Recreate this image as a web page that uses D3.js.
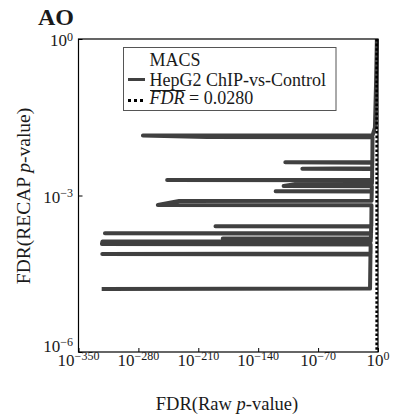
<!DOCTYPE html>
<html>
<head>
<meta charset="utf-8">
<script src="https://cdn.jsdelivr.net/npm/d3@7/dist/d3.min.js"></script>
<style>
  html, body { margin: 0; padding: 0; background: #fff; }
  svg { display: block; }
  text { font-family: "Liberation Serif", "DejaVu Serif", serif; fill: #1a1a1a; }
</style>
</head>
<body>
<svg id="chart" width="396" height="415"></svg>
<script>
// log10 of FDR from the raw p-values and from the RECAP p-values, sorted by RECAP FDR
const log10Raw = [
  -322.9, -9.3, -8.8, -322.2, -8.7, -8.6, -322.6, -322.0, -8.5, -8.4,
  -181.4, -8.3, -8.2, -319.1, -8.1, -8.0, -189.9, -7.8, -7.6, -257.3,
  -232.4, -7.5, -7.3, -119.6, -7.25, -7.2, -110.3, -95.1, -7.1, -7.0,
  -246.4, -6.9, -6.8, -88.4, -6.75, -6.7, -108.3, -6.6, -6.4, -200.1,
  -274.7, -6.3, -3.6, -2.2, -1.3
];
const log10Recap = [
  -4.792, -4.785, -4.130, -4.121, -4.110, -3.940, -3.930, -3.882, -3.875, -3.830,
  -3.824, -3.818, -3.732, -3.725, -3.718, -3.596, -3.590, -3.584, -3.188, -3.182,
  -3.105, -3.100, -2.925, -2.919, -2.912, -2.824, -2.818, -2.780, -2.774, -2.709,
  -2.703, -2.697, -2.492, -2.486, -2.480, -2.370, -2.364, -2.358, -1.885, -1.879,
  -1.850, -1.845, -1.700, -0.800, 0.000
];
const fdrThreshold = 0.0280;

const xTicks = [-350, -280, -210, -140, -70, 0];
const yTicks = [-6, -3, 0];

const panelTitle = "AO";
const legendTitle = "MACS";
const seriesName = "HepG2 ChIP-vs-Control";

const svg = d3.select("#chart");
const plot = { left: 78.5, right: 378, top: 39, bottom: 352 };

const x = d3.scaleLinear().domain([-350, 0]).range([plot.left, plot.right]);
const y = d3.scaleLinear().domain([-6, 0]).range([plot.bottom, plot.top]);

// curve
const pts = log10Raw.map((r, i) => [r, log10Recap[i]]);
svg.append("path")
  .datum(pts)
  .attr("fill", "none")
  .attr("stroke", "#404040")
  .attr("stroke-width", 4)
  .attr("stroke-linejoin", "round")
  .attr("stroke-linecap", "butt")
  .attr("d", d3.line().x(d => x(d[0])).y(d => y(d[1])));

// mean FDR marker
const xf = Math.log10(fdrThreshold);
svg.append("line")
  .attr("x1", x(xf)).attr("x2", x(xf))
  .attr("y1", y(0)).attr("y2", y(-6))
  .attr("stroke", "#000")
  .attr("stroke-width", 2.6)
  .attr("stroke-dasharray", "2.6,2");

// frame
svg.append("rect")
  .attr("x", plot.left).attr("y", plot.top)
  .attr("width", plot.right - plot.left).attr("height", plot.bottom - plot.top)
  .attr("fill", "none").attr("stroke", "#000").attr("stroke-width", 1.2);

// axes (inward ticks)
const xAxis = svg.append("g")
  .attr("transform", `translate(0,${plot.bottom})`)
  .call(d3.axisBottom(x).tickValues(xTicks).tickSizeInner(-4).tickSizeOuter(0).tickFormat(""));
const yAxis = svg.append("g")
  .attr("transform", `translate(${plot.left},0)`)
  .call(d3.axisLeft(y).tickValues(yTicks).tickSizeInner(-4).tickSizeOuter(0).tickFormat(""));
[xAxis, yAxis].forEach(g => {
  g.select(".domain").remove();
  g.selectAll("line").attr("stroke", "#000").attr("stroke-width", 1);
});

function powerLabel(sel, exp, rise) {
  sel.append("tspan").text("10");
  sel.append("tspan")
    .attr("dy", -rise)
    .attr("font-size", 12)
    .text(exp < 0 ? "\u2212" + Math.abs(exp) : String(exp));
}

xTicks.forEach(t => {
  const txt = svg.append("text")
    .attr("x", x(t)).attr("y", 366)
    .attr("text-anchor", "middle")
    .attr("font-size", 17);
  powerLabel(txt, t, 6.5);
});

const yLabelShift = { "0": 7, "-3": 7.5, "-6": 0 };
yTicks.forEach(t => {
  const txt = svg.append("text")
    .attr("x", 73).attr("y", y(t) + yLabelShift[String(t)])
    .attr("text-anchor", "end")
    .attr("font-size", 17);
  powerLabel(txt, t, t === 0 ? 5.5 : 6.5);
});

// axis titles
const xl = svg.append("text")
  .attr("x", 227).attr("y", 410)
  .attr("text-anchor", "middle")
  .attr("font-size", 18.5);
xl.append("tspan").text("FDR(Raw ");
xl.append("tspan").attr("font-style", "italic").text("p");
xl.append("tspan").text("-value)");

const yl = svg.append("text")
  .attr("transform", "translate(30,196) rotate(-90)")
  .attr("text-anchor", "middle")
  .attr("font-size", 19.5);
yl.append("tspan").text("FDR(RECAP ");
yl.append("tspan").attr("font-style", "italic").text("p");
yl.append("tspan").text("-value)");

// panel title
svg.append("text")
  .attr("x", 38).attr("y", 25)
  .attr("font-size", 24)
  .attr("font-weight", "bold")
  .text(panelTitle);

// legend
const lg = svg.append("g");
lg.append("rect")
  .attr("x", 123.5).attr("y", 47.5)
  .attr("width", 212.5).attr("height", 63)
  .attr("fill", "#fff").attr("stroke", "#555").attr("stroke-width", 1);
lg.append("text").attr("x", 149.5).attr("y", 66).attr("font-size", 18).attr("fill", "#333").text(legendTitle);
lg.append("line")
  .attr("x1", 128).attr("x2", 145).attr("y1", 79.5).attr("y2", 79.5)
  .attr("stroke", "#404040").attr("stroke-width", 3);
lg.append("text").attr("x", 149.5).attr("y", 85.5).attr("font-size", 18).text(seriesName);
lg.append("line")
  .attr("x1", 128).attr("x2", 146).attr("y1", 100.5).attr("y2", 100.5)
  .attr("stroke", "#000").attr("stroke-width", 3)
  .attr("stroke-dasharray", "3,3");
const ft = lg.append("text").attr("x", 149.5).attr("y", 104).attr("font-size", 18);
const fdrSpan = ft.append("tspan").attr("font-style", "italic").text("FDR");
ft.append("tspan").text(" = " + fdrThreshold.toFixed(4));
// bar over FDR
const fdrWidth = fdrSpan.node().getComputedTextLength();
lg.append("line")
  .attr("x1", 150).attr("x2", 149.5 + fdrWidth + 1)
  .attr("y1", 90.5).attr("y2", 90.5)
  .attr("stroke", "#1a1a1a").attr("stroke-width", 1);
</script>
</body>
</html>
